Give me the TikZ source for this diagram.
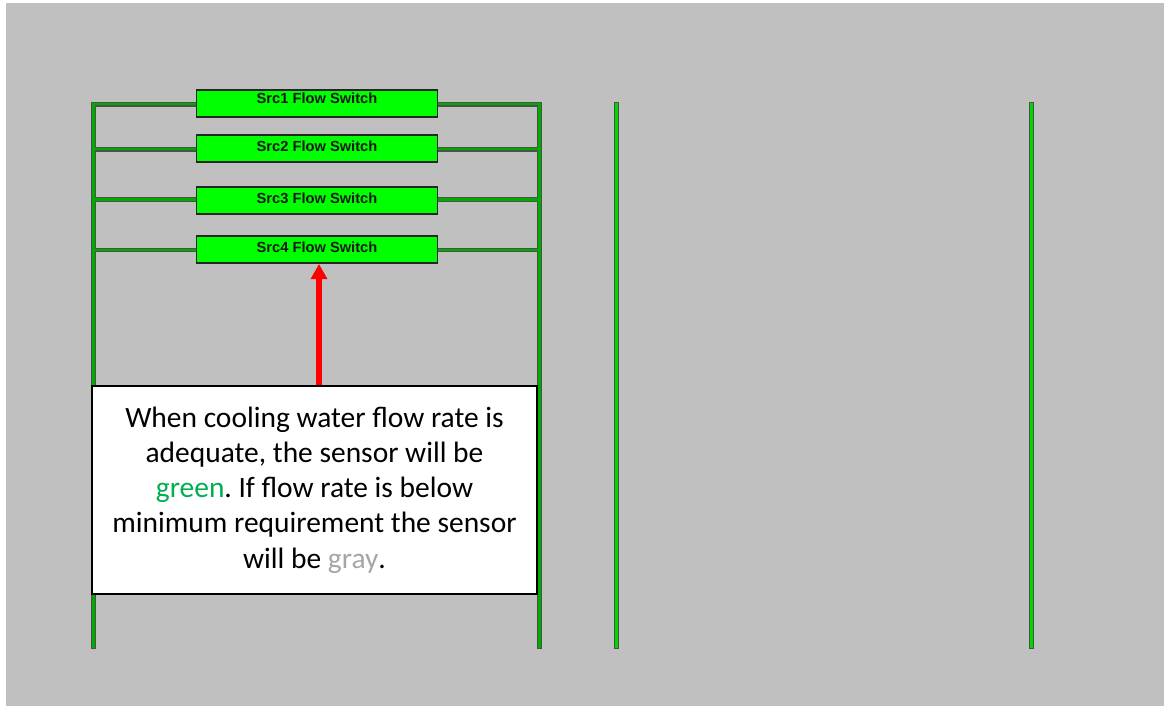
\documentclass[tikz,border=0pt]{standalone}
\usepackage{fontspec}
\setmainfont{Liberation Sans}
\newfontfamily\callout{Carlito}
\definecolor{panelgray}{RGB}{192,192,192}
\definecolor{pipeedge}{RGB}{70,85,70}
\definecolor{pipegreen}{RGB}{0,170,0}
\definecolor{pipebright}{RGB}{0,215,0}
\definecolor{switchgreen}{RGB}{0,255,0}
\definecolor{wordgreen}{RGB}{0,176,80}
\definecolor{wordgray}{RGB}{166,166,166}
\usetikzlibrary{arrows.meta}
\tikzset{
  x=0.75pt,y=-0.75pt,
  switchbox/.style={draw=black!85,fill=switchgreen,line width=1.1pt,minimum width=180.5pt,minimum height=20.5pt,inner sep=0pt},
  switchtext/.style={font=\bfseries\fontsize{11}{12}\selectfont,text=black!90,inner sep=0pt},
  vpipe/.style={fill=pipeedge,minimum width=3.4pt,minimum height=410pt,inner sep=0pt},
  hpipe/.style={draw=pipeedge,double=pipegreen,double distance=1.7pt,line width=0.95pt},
  note/.style={draw=black,fill=white,line width=1.5pt,minimum width=333.5pt,minimum height=156pt,inner sep=0pt,align=center,
    font=\callout\fontsize{22.1}{26.4}\selectfont},
  redarrow/.style={draw=red,line width=3.9pt,-{Triangle[length=11.5pt,width=12pt]}}
}
\begin{document}
\frenchspacing
\begin{tikzpicture}
\useasboundingbox (0,0) rectangle (1164,706);
\fill[panelgray] (6,3) rectangle (1164,706);
\node[vpipe] (leftpipe) at (93.5,375.5) {};
\node[vpipe] (rightpipe) at (539.5,375.5) {};
\node[vpipe] (midpipe) at (616.5,375.5) {};
\node[vpipe] (farpipe) at (1031.5,375.5) {};
\foreach \p/\c in {leftpipe/pipegreen,rightpipe/pipegreen,midpipe/pipebright,farpipe/pipebright}{
  \fill[\c] ([xshift=-0.95pt,yshift=-0.9pt]\p.north) rectangle ([xshift=0.95pt,yshift=0.9pt]\p.south);
}
\coordinate (l1) at (leftpipe.north |- 0,104.3);
\coordinate (r1) at (rightpipe.north |- 0,104.3);
\coordinate (l2) at (leftpipe.north |- 0,149.3);
\coordinate (r2) at (rightpipe.north |- 0,149.3);
\coordinate (l3) at (leftpipe.north |- 0,199.5);
\coordinate (r3) at (rightpipe.north |- 0,199.5);
\coordinate (l4) at (leftpipe.north |- 0,250);
\coordinate (r4) at (rightpipe.north |- 0,250);
\node[switchbox] (s1) at (317,103.5) {};
\node[switchbox] (s2) at (317,148.5) {};
\node[switchbox] (s3) at (317,200.5) {};
\node[switchbox] (s4) at (317,249.5) {};
\node[switchtext] (t1) at (317,98) {Src1 Flow Switch};
\node[switchtext] (t2) at (317,146.5) {Src2 Flow Switch};
\node[switchtext] (t3) at (317,198.5) {Src3 Flow Switch};
\node[switchtext] (t4) at (317,247.5) {Src4 Flow Switch};
\foreach \i in {1,2,3,4}{
  \draw[hpipe] ([xshift=1pt]l\i) -- (s\i.west |- l\i);
  \draw[hpipe] (s\i.east |- r\i) -- ([xshift=-1pt]r\i);
}
\node[note] (box) at (314.5,490) {When cooling water flow rate is\\adequate, the sensor will be\\\textcolor{wordgreen}{green}. If flow rate is below\\minimum requirement the sensor\\will be \textcolor{wordgray}{gray}.};
\draw[redarrow] (box.north -| 319,0) -- (s4.south -| 319,0);
\end{tikzpicture}
\end{document}
